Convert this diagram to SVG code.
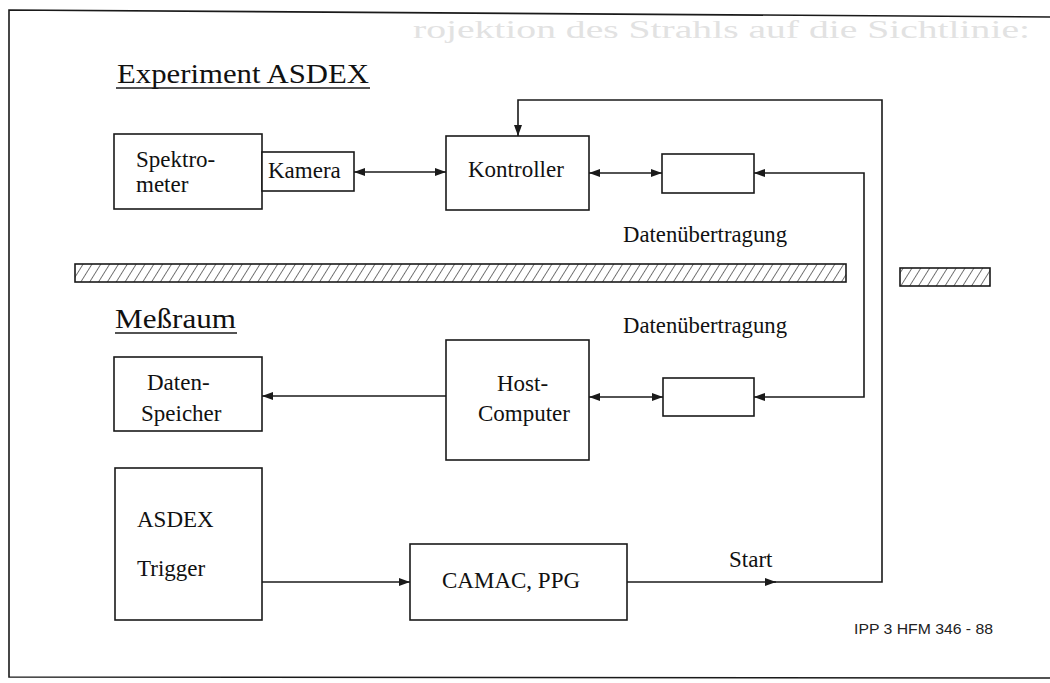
<svg xmlns="http://www.w3.org/2000/svg" width="1050" height="683" viewBox="0 0 1050 683">
<style>
.box{fill:#fff;stroke:#1a1a1a;stroke-width:1.6}
.ln{fill:none;stroke:#1a1a1a;stroke-width:1.6}
.t{font-family:"Liberation Serif","Times New Roman",serif;font-size:23px;fill:#111}
.h{font-family:"Liberation Serif","Times New Roman",serif;fill:#111}
.ghost{font-family:"Liberation Serif","Times New Roman",serif;font-size:26px;fill:#e2e2e2}
.id{font-family:"Liberation Sans",Arial,sans-serif;font-size:15px;fill:#222}
.hatch{fill:url(#hatch);stroke:#1a1a1a;stroke-width:1.6}
</style>
<defs>
<marker id="ah" markerUnits="userSpaceOnUse" markerWidth="11" markerHeight="8" refX="11" refY="4" orient="auto-start-reverse">
<path d="M0,0 L11,4 L0,8 z" fill="#1a1a1a"/>
</marker>
<pattern id="hatch" patternUnits="userSpaceOnUse" width="7.5" height="20" patternTransform="rotate(32)">
<rect width="7.5" height="20" fill="#fff"/>
<line x1="0" y1="0" x2="0" y2="20" stroke="#1a1a1a" stroke-width="1.2"/>
</pattern>
</defs>
<rect width="1050" height="683" fill="#fff"/>
<text class="ghost" x="413" y="38" textLength="617" lengthAdjust="spacingAndGlyphs">rojektion des Strahls auf die Sichtlinie:</text>
<path class="ln" d="M1050,17 L9,10 L9,677 L1050,678" stroke-width="2"/>

<g id="title-experiment">
<text class="h" x="117" y="83" font-size="27" textLength="252" lengthAdjust="spacingAndGlyphs">Experiment ASDEX</text>
<line class="ln" x1="116" y1="88" x2="370" y2="88"/>
</g>
<g id="title-messraum">
<text class="h" x="115" y="328" font-size="28" textLength="121" lengthAdjust="spacingAndGlyphs">Meßraum</text>
<line class="ln" x1="115" y1="333" x2="237" y2="333"/>
</g>

<g id="wall">
<rect class="hatch" x="75" y="264" width="771" height="18"/>
<rect class="hatch" x="900" y="268" width="90" height="18"/>
</g>

<g id="spektrometer">
<rect class="box" x="114" y="134" width="148" height="75"/>
<text class="t" x="136" y="167">Spektro-</text>
<text class="t" x="136" y="192">meter</text>
</g>
<g id="kamera">
<rect class="box" x="262" y="152" width="92" height="39"/>
<text class="t" x="268" y="178">Kamera</text>
</g>
<g id="kontroller">
<rect class="box" x="446" y="136" width="143" height="74"/>
<text class="t" x="468" y="177">Kontroller</text>
</g>
<g id="uebertragung-oben">
<rect class="box" x="662" y="154" width="92" height="39"/>
</g>
<g id="label-oben">
<text class="t" x="623" y="242" textLength="164" lengthAdjust="spacingAndGlyphs">Datenübertragung</text>
</g>
<g id="label-unten">
<text class="t" x="623" y="333" textLength="164" lengthAdjust="spacingAndGlyphs">Datenübertragung</text>
</g>
<g id="datenspeicher">
<rect class="box" x="114" y="357" width="148" height="74"/>
<text class="t" x="147" y="390">Daten-</text>
<text class="t" x="141" y="421">Speicher</text>
</g>
<g id="hostcomputer">
<rect class="box" x="446" y="340" width="143" height="120"/>
<text class="t" x="497" y="391">Host-</text>
<text class="t" x="478" y="421">Computer</text>
</g>
<g id="uebertragung-unten">
<rect class="box" x="663" y="378" width="91" height="38"/>
</g>
<g id="trigger">
<rect class="box" x="115" y="468" width="147" height="152"/>
<text class="t" x="137" y="527">ASDEX</text>
<text class="t" x="137" y="576">Trigger</text>
</g>
<g id="camac">
<rect class="box" x="410" y="544" width="217" height="76"/>
<text class="t" x="442" y="588">CAMAC, PPG</text>
</g>
<g id="start-label">
<text class="t" x="729" y="567">Start</text>
</g>
<g id="ipp">
<text class="id" x="854" y="634" textLength="139" lengthAdjust="spacingAndGlyphs">IPP 3 HFM 346 - 88</text>
</g>

<g id="connectors">
<path class="ln" d="M354,172 H446" marker-start="url(#ah)" marker-end="url(#ah)"/>
<path class="ln" d="M589,173 H662" marker-start="url(#ah)" marker-end="url(#ah)"/>
<path class="ln" d="M754,397 H864 V173 H754" marker-start="url(#ah)" marker-end="url(#ah)"/>
<path class="ln" d="M589,397 H663" marker-start="url(#ah)" marker-end="url(#ah)"/>
<path class="ln" d="M446,396 H262" marker-end="url(#ah)"/>
<path class="ln" d="M262,582 H410" marker-end="url(#ah)"/>
<path class="ln" d="M627,582 H776" marker-end="url(#ah)"/>
<path class="ln" d="M770,582 H882 V100 H518 V136" marker-end="url(#ah)"/>
</g>
</svg>
